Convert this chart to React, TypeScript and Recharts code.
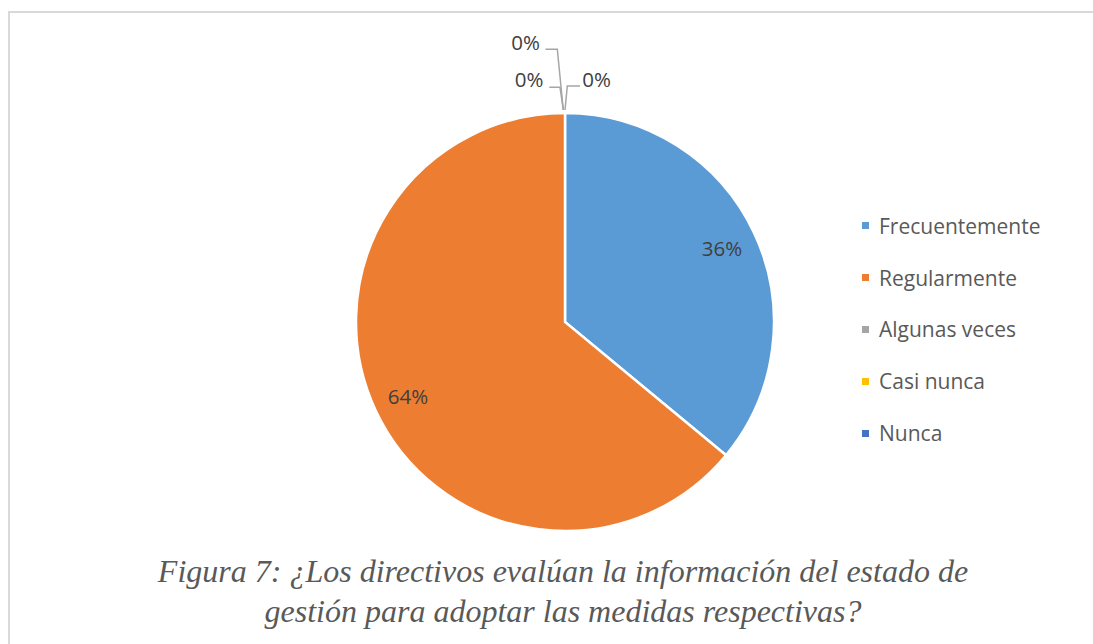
import { PieChart, Pie, Cell, Legend } from "recharts";

const categories = ["Frecuentemente", "Regularmente", "Algunas veces", "Casi nunca", "Nunca"];
const values = [36, 64, 0, 0, 0];
const colors = ["#5B9BD5", "#ED7D31", "#A5A5A5", "#FFC000", "#4472C4"];
const titleLines = [
  "Figura 7: ¿Los directivos evalúan la información del estado de",
  "gestión para adoptar las medidas respectivas?",
];

const data = categories.map((name, i) => ({ name, value: values[i] }));

// leader lines for the zero slices, relative to the top of the pie
const zeroLabels = [
  { tx: -39.5, ty: -71, line: [[-19.5, -63.7], [-7.7, -63.7], [-1.7, -3]] },
  { tx: -36, ty: -34, line: [[-15.7, -25.7], [-5, -25.7], [-1.7, -3]] },
  { tx: 31.5, ty: -34.5, line: [[15, -27], [2.3, -27], [0, -3]] },
];

const RAD = Math.PI / 180;

const renderLabel = (props: any) => {
  const { cx, cy, midAngle, outerRadius, percent, index } = props;
  const text = `${Math.round(percent * 100)}%`;
  if (percent > 0) {
    const r = outerRadius * 0.83;
    const x = cx + r * Math.cos(-midAngle * RAD);
    const y = cy + r * Math.sin(-midAngle * RAD);
    return (
      <text
        key={`l-${index}`}
        x={x}
        y={y}
        textAnchor="middle"
        dominantBaseline="central"
        fill="#404040"
        fontSize={20.5}
        fontFamily="'Open Sans', sans-serif"
      >
        {text}
      </text>
    );
  }
  const z = zeroLabels[index - 2];
  if (!z) return null;
  const top = cy - outerRadius;
  const pts = z.line.map(([dx, dy]) => `${cx + dx},${top + dy}`).join(" ");
  return (
    <g key={`l-${index}`}>
      <polyline points={pts} fill="none" stroke="#A6A6A6" strokeWidth={1.5} />
      <text
        x={cx + z.tx}
        y={top + z.ty}
        textAnchor="middle"
        dominantBaseline="central"
        fill="#404040"
        fontSize={20.5}
        fontFamily="'Open Sans', sans-serif"
      >
        {text}
      </text>
    </g>
  );
};

const renderLegend = () => (
  <div style={{ fontFamily: "'Open Sans', sans-serif", fontSize: 21, color: "#595959" }}>
    {categories.map((c, i) => (
      <div key={c} style={{ display: "flex", alignItems: "center", height: 51.8 }}>
        <span
          style={{
            display: "inline-block",
            width: 7,
            height: 7,
            background: colors[i],
            marginRight: 10,
          }}
        />
        <span>{c}</span>
      </div>
    ))}
  </div>
);

export default function App() {
  return (
    <div
      style={{
        position: "fixed",
        left: 0,
        top: 0,
        width: 1093,
        height: 644,
        background: "#fff",
        overflow: "hidden",
      }}
    >
      <div
        style={{
          position: "absolute",
          left: 8,
          top: 11,
          width: 1090,
          height: 640,
          borderLeft: "2px solid #D9D9D9",
          borderTop: "2px solid #D9D9D9",
        }}
      />
      <div style={{ position: "absolute", left: 0, top: 0 }}>
        <PieChart width={1093} height={644}>
          <Pie
            data={data}
            dataKey="value"
            nameKey="name"
            cx={560}
            cy={317}
            outerRadius={209}
            startAngle={90}
            endAngle={-270}
            stroke="#FFFFFF"
            strokeWidth={2.5}
            label={renderLabel}
            labelLine={false}
            isAnimationActive={false}
          >
            {data.map((d, i) => (
              <Cell key={d.name} fill={colors[i]} />
            ))}
          </Pie>
          <Legend
            content={renderLegend}
            layout="vertical"
            wrapperStyle={{ position: "absolute", left: 862, top: 200, width: 230 }}
          />
        </PieChart>
      </div>
      <div
        style={{
          position: "absolute",
          left: 0,
          top: 551,
          width: 1126,
          textAlign: "center",
          fontFamily: "'Liberation Serif', 'Times New Roman', serif",
          fontStyle: "italic",
          fontSize: 32,
          lineHeight: "40px",
          color: "#595959",
        }}
      >
        {titleLines.map((t) => (
          <div key={t}>{t}</div>
        ))}
      </div>
    </div>
  );
}
